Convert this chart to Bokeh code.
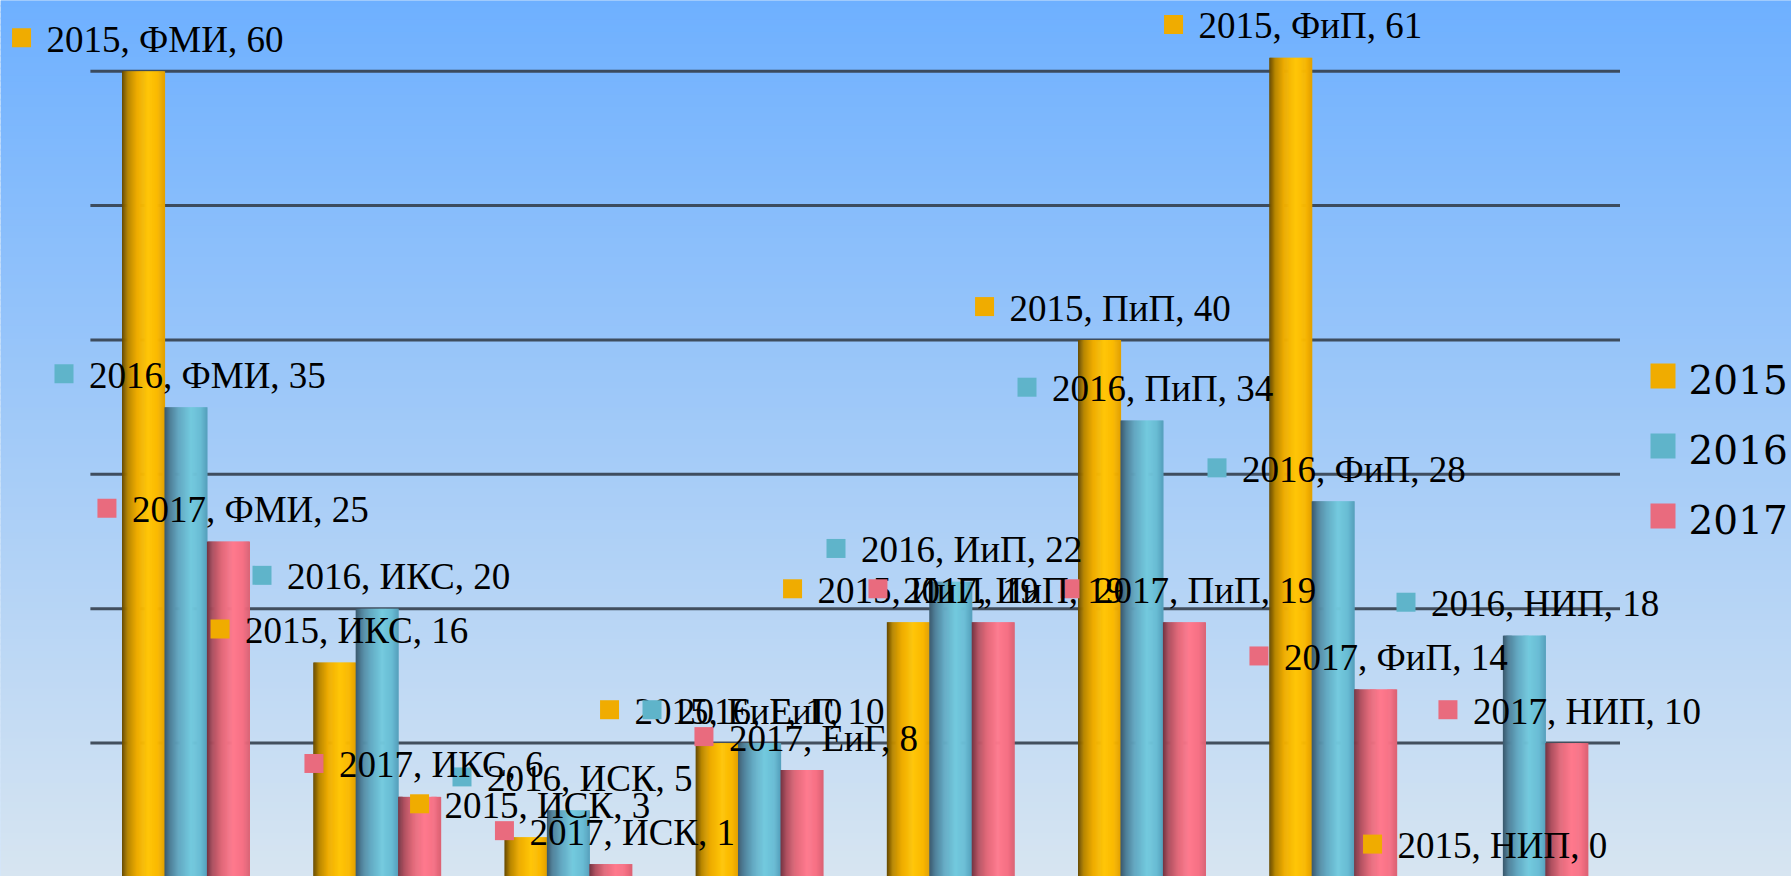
import numpy as np
from bokeh.plotting import figure
from bokeh.models import Range1d
from bokeh.core.properties import value
from bokeh.embed import file_html
from bokeh.resources import INLINE

# ---------------- data ----------------
categories = ["ФМИ", "ИКС", "ИСК", "ЕиГ", "ИиП", "ПиП", "ФиП", "НИП"]
years = ["2015", "2016", "2017"]
values_2015 = [60, 16, 3, 10, 19, 40, 61, 0]
values_2016 = [35, 20, 5, 10, 22, 34, 28, 18]
values_2017 = [25, 6, 1, 8, 19, 19, 14, 10]
grid_ticks = [10, 20, 30, 40, 50, 60]

# ---------------- style / geometry ----------------
W, H = 1791, 876
PX_X0 = 89.9          # page x of the plot area's left edge
PX_PER_CAT = 191.2    # pixels per category
PX_Y0 = 877.0         # page y of value 0
PX_PER_UNIT = 13.438  # pixels per unit of value
TEXT_SHIFT = 13.0     # rendered baseline correction (px)

def px2x(px):
    return (px - PX_X0) / PX_PER_CAT

def py2y(py):
    return (PX_Y0 - py) / PX_PER_UNIT

BAR_W = 0.222
OFFSETS = [-0.222, 0.0, 0.222]
FLAT = ["#F0AC00", "#5FB4CA", "#E96B7E"]
STOPS = [
    [(0.0, (100, 72, 0)), (0.14, (185, 135, 0)), (0.35, (238, 172, 0)),
     (0.62, (255, 198, 8)), (0.85, (250, 184, 0)), (1.0, (226, 160, 0))],
    [(0.0, (58, 88, 108)), (0.14, (80, 130, 155)), (0.35, (100, 170, 195)),
     (0.62, (115, 202, 222)), (0.85, (105, 188, 212)), (1.0, (85, 160, 188))],
    [(0.0, (115, 52, 66)), (0.14, (175, 80, 96)), (0.35, (225, 105, 122)),
     (0.62, (255, 122, 142)), (0.85, (245, 112, 132)), (1.0, (220, 98, 116))],
]
# label marker position relative to bar centre / top (px)
LABEL_DX = [
    [-122, -114.7, -106.4, -107.6, -115.8, -115, -117.2, -109.4],
    [-122, -115.2, -106.4, -107.6, -114.8, -115, -116.2, -118.4],
    [-121.5, -105.7, -106.4, -98.1, -115.3, -114.5, -116.7, -118.9],
]
LABEL_DY = 33.4

def interp(stops, t):
    for (t0, c0), (t1, c1) in zip(stops[:-1], stops[1:]):
        if t0 <= t <= t1:
            f = (t - t0) / (t1 - t0)
            c = [round(a + (b - a) * f) for a, b in zip(c0, c1)]
            return "#%02x%02x%02x" % tuple(c)
    return "#%02x%02x%02x" % stops[-1][1]

x0, x1 = px2x(0), px2x(W)
y0, y1 = py2y(H), py2y(0)

p = figure(width=W, height=H, x_range=Range1d(x0, x1), y_range=Range1d(y0, y1),
           output_backend="svg", toolbar_location=None,
           x_axis_location=None, y_axis_location=None, min_border=0,
           outline_line_color=None, background_fill_color="#a8cdf5",
           border_fill_color="#a8cdf5")
p.xgrid.visible = False
p.ygrid.visible = False

# background gradient (top blue -> bottom pale)
top_c = np.array([110, 176, 255])
bot_c = np.array([215, 229, 241])
n = 140
edges = np.linspace(y0, y1, n + 1)
fr = (np.arange(n) + 0.5) / n
cols = ["#%02x%02x%02x" % tuple(np.round(bot_c + (top_c - bot_c) * f).astype(int)) for f in fr]
p.quad(left=x0, right=x1, bottom=edges[:-1], top=edges[1:] + (y1 - y0) / n * 0.3,
       fill_color=cols, line_color=None)

# gridlines
p.segment(x0=[0] * len(grid_ticks), x1=[len(categories)] * len(grid_ticks),
          y0=grid_ticks, y1=grid_ticks, line_color="#343f4d", line_width=3, line_alpha=0.9)

series = [values_2015, values_2016, values_2017]

# cylinder-like bars built from thin vertical strips
N = 40
for s, vals in enumerate(series):
    sx, st, sc = [], [], []
    for i, v in enumerate(vals):
        cx = i + 0.5 + OFFSETS[s]
        for k in range(N):
            t = (k + 0.5) / N
            sx.append(cx - BAR_W / 2 + t * BAR_W)
            st.append(v)
            sc.append(interp(STOPS[s], t))
    p.vbar(x=sx, top=st, bottom=0, width=BAR_W / N * 1.6, fill_color=sc, line_color=None)

# data labels
for s, vals in enumerate(series):
    mx = [i + 0.5 + OFFSETS[s] + LABEL_DX[s][i] / PX_PER_CAT for i in range(len(vals))]
    my = [v + LABEL_DY / PX_PER_UNIT for v in vals]
    texts = [f"{years[s]}, {c}, {v}" for c, v in zip(categories, vals)]
    p.rect(x=mx, y=my, width=19, height=19, width_units="screen", height_units="screen",
           fill_color=FLAT[s], line_color=None)
    p.text(x=[m + 25 / PX_PER_CAT for m in mx],
           y=[m - (14.5 - TEXT_SHIFT) / PX_PER_UNIT for m in my],
           text=texts, text_font=value("Liberation Serif"), text_font_size="37px",
           text_baseline="alphabetic", text_align="left", text_color="black")

# legend
leg_py = [375.5, 445.5, 515.5]
p.rect(x=[px2x(1662.5)] * 3, y=[py2y(v) for v in leg_py], width=25, height=25,
       width_units="screen", height_units="screen", fill_color=FLAT, line_color=None)
p.text(x=[px2x(1688)] * 3, y=[py2y(v + 16.5 - TEXT_SHIFT) for v in leg_py], text=years,
       text_font=value("DejaVu Serif"), text_font_size="39px",
       text_baseline="alphabetic", text_align="left", text_color="black")

open("out.html", "w").write(file_html(p, INLINE))
